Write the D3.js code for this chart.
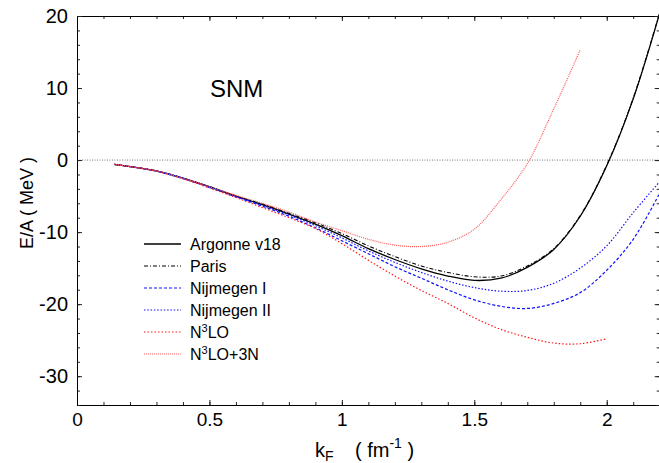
<!DOCTYPE html>
<html>
<head>
<meta charset="utf-8">
<script src="https://cdn.jsdelivr.net/npm/d3@7"></script>
<style>
  html, body { margin: 0; padding: 0; background: #fff; }
  svg { display: block; font-family: "Liberation Sans", Arial, Helvetica, sans-serif; }
</style>
</head>
<body>
<svg id="chart" width="659" height="463"></svg>
<script>
// Fermi momentum grid (fm^-1)
const kF = [0.14, 0.2, 0.3, 0.4, 0.5, 0.6, 0.7, 0.8, 0.9, 1.0, 1.1,
            1.2, 1.3, 1.4, 1.5, 1.6, 1.7, 1.8, 1.9, 2.0, 2.1, 2.2];

// Energy per nucleon in symmetric nuclear matter (MeV)
const argonneV18 = [-0.6, -0.9, -1.5, -2.5, -3.7, -5.0, -6.2, -7.5, -8.9, -10.5, -12.3,
                    -13.8, -15.1, -16.1, -16.7, -16.4, -14.9, -12.4, -7.8, -0.8, 8.5, 20.4];
const paris      = [-0.6, -0.9, -1.5, -2.5, -3.7, -5.0, -6.1, -7.4, -8.7, -10.2, -11.9,
                    -13.4, -14.7, -15.6, -16.2, -16.1, -14.7, -12.3, -7.7, -0.7, 8.6, 20.5];
const nijmegenI  = [-0.6, -0.9, -1.55, -2.55, -3.8, -5.1, -6.4, -7.8, -9.4, -11.2, -13.0,
                    -14.8, -16.4, -18.0, -19.4, -20.3, -20.6, -19.9, -18.4, -15.3, -11.0, -4.6];
const nijmegenII = [-0.6, -0.9, -1.5, -2.5, -3.75, -5.05, -6.3, -7.6, -9.1, -10.8, -12.6,
                    -14.2, -15.6, -16.8, -17.7, -18.2, -18.1, -17.1, -15.0, -11.9, -7.3, -3.0];
const n3lo       = [-0.6, -0.9, -1.55, -2.6, -3.85, -5.2, -6.6, -8.0, -9.5, -11.6, -13.9,
                    -16.1, -18.1, -19.9, -21.9, -23.5, -24.6, -25.4, -25.5, -24.8];
const n3lo3N     = [-0.6, -0.9, -1.5, -2.5, -3.7, -4.9, -6.0, -7.2, -8.6, -9.8, -11.0,
                    -11.8, -12.0, -11.4, -9.6, -5.5, -0.5, 7.1, 15.3];

// Axis ticks
const xTicks = [0, 0.5, 1, 1.5, 2];
const xTickLabels = ["0", "0.5", "1", "1.5", "2"];
const xMinorTicks = d3.range(0, 23).map(i => i / 10);
const yTicks = [-30, -20, -10, 0, 10, 20];
const yTickLabels = ["-30", "-20", "-10", "0", "10", "20"];
const yMinorTicks = d3.range(-34, 21, 2);

// Series and their line styles (legend order)
const series = [
  { name: "Argonne v18", values: argonneV18, color: "#000000", width: 1.3, dash: null },
  { name: "Paris",       values: paris,      color: "#000000", width: 1.1, dash: "4,2,1,2" },
  { name: "Nijmegen I",  values: nijmegenI,  color: "#1010ff", width: 1.2, dash: "3,2" },
  { name: "Nijmegen II", values: nijmegenII, color: "#1010ff", width: 1.2, dash: "1.5,1.8" },
  { name: "N3LO",        values: n3lo,       color: "#ff1a1a", width: 1.2, dash: "1.5,2" },
  { name: "N3LO+3N",     values: n3lo3N,     color: "#ff5c5c", width: 1.2, dash: "1,1" }
];

const svg = d3.select("#chart");
const plotLeft = 77, plotRight = 659.7, plotTop = 16, plotBottom = 405;

const x = d3.scaleLinear().domain([0, 2.2]).range([plotLeft, plotRight]);
const y = d3.scaleLinear().domain([-34, 20]).range([plotBottom, plotTop]);

// Zero reference line
svg.append("line")
  .attr("x1", x(0)).attr("x2", x(2.2))
  .attr("y1", y(0)).attr("y2", y(0))
  .attr("stroke", "#777").attr("stroke-width", 1)
  .attr("stroke-dasharray", "1,1.5");

// Curves
const line = d3.line()
  .x(d => x(d[0]))
  .y(d => y(d[1]))
  .curve(d3.curveCatmullRom.alpha(0.5));

const plot = svg.append("g");
series.forEach(s => {
  const pts = s.values.map((v, i) => [kF[i], v]);
  plot.append("path")
    .attr("d", line(pts))
    .attr("fill", "none")
    .attr("stroke", s.color)
    .attr("stroke-width", s.width)
    .attr("stroke-dasharray", s.dash);
});

// Axes: ticks point into the frame on all four sides
function styleAxis(g) {
  g.selectAll(".domain").attr("stroke", "#000").attr("stroke-width", 1);
  g.selectAll(".tick line").attr("stroke", "#222");
  g.selectAll(".tick text").attr("fill", "#000");
}

// bottom
svg.append("g").attr("transform", `translate(0,${plotBottom})`)
  .call(d3.axisBottom(x).tickValues(xMinorTicks).tickFormat("").tickSizeInner(-3).tickSizeOuter(0))
  .call(styleAxis);
svg.append("g").attr("transform", `translate(0,${plotBottom})`)
  .call(d3.axisBottom(x).tickValues(xTicks).tickFormat((d, i) => xTickLabels[i])
        .tickSizeInner(-5).tickSizeOuter(0).tickPadding(8))
  .call(g => g.selectAll("text").attr("font-size", 19).attr("font-family", "Liberation Sans, Arial, sans-serif"))
  .call(styleAxis);

// top
svg.append("g").attr("transform", `translate(0,${plotTop})`)
  .call(d3.axisTop(x).tickValues(xMinorTicks).tickFormat("").tickSizeInner(-3).tickSizeOuter(0))
  .call(styleAxis);
svg.append("g").attr("transform", `translate(0,${plotTop})`)
  .call(d3.axisTop(x).tickValues(xTicks).tickFormat("").tickSizeInner(-5).tickSizeOuter(0))
  .call(styleAxis);

// left
svg.append("g").attr("transform", `translate(${plotLeft},0)`)
  .call(d3.axisLeft(y).tickValues(yMinorTicks).tickFormat("").tickSizeInner(-3).tickSizeOuter(0))
  .call(styleAxis);
svg.append("g").attr("transform", `translate(${plotLeft},0)`)
  .call(d3.axisLeft(y).tickValues(yTicks).tickFormat((d, i) => yTickLabels[i])
        .tickSizeInner(-5).tickSizeOuter(0).tickPadding(9))
  .call(g => g.selectAll("text").attr("font-size", 20).attr("font-family", "Liberation Sans, Arial, sans-serif"))
  .call(styleAxis);

// right
svg.append("g").attr("transform", `translate(${plotRight},0)`)
  .call(d3.axisRight(y).tickValues(yMinorTicks).tickFormat("").tickSizeInner(-3).tickSizeOuter(0))
  .call(styleAxis);
svg.append("g").attr("transform", `translate(${plotRight},0)`)
  .call(d3.axisRight(y).tickValues(yTicks).tickFormat("").tickSizeInner(-5).tickSizeOuter(0))
  .call(styleAxis);

// Axis titles
svg.append("text")
  .attr("transform", "translate(33,203) rotate(-90)")
  .attr("text-anchor", "middle")
  .attr("font-size", 18)
  .text("E/A ( MeV )");

const xt = svg.append("text")
  .attr("x", 315).attr("y", 457)
  .attr("font-size", 20);
xt.append("tspan").text("k");
xt.append("tspan").attr("font-size", 14).attr("dy", 4).text("F");
xt.append("tspan").attr("x", 355).attr("dy", -4).text("( fm");
xt.append("tspan").attr("font-size", 14).attr("dy", -9).text("-1");
xt.append("tspan").attr("dy", 9).text(" )");

// Panel label
svg.append("text")
  .attr("x", 210).attr("y", 97)
  .attr("font-size", 24)
  .text("SNM");

// Legend
const legend = svg.append("g");
const legendX0 = 144, legendX1 = 181, legendTextX = 190, legendY0 = 244, legendStep = 22;
series.forEach((s, i) => {
  const yy = legendY0 + i * legendStep;
  legend.append("line")
    .attr("x1", legendX0).attr("x2", legendX1)
    .attr("y1", yy).attr("y2", yy)
    .attr("stroke", s.color)
    .attr("stroke-width", s.width)
    .attr("stroke-dasharray", s.dash);
  const t = legend.append("text")
    .attr("x", legendTextX).attr("y", yy + 6)
    .attr("font-size", 16);
  const m = s.name.match(/^N3LO(.*)$/);
  if (m) {
    t.append("tspan").text("N");
    t.append("tspan").attr("font-size", 11).attr("dy", -6).text("3");
    t.append("tspan").attr("dy", 6).text("LO" + m[1]);
  } else {
    t.text(s.name);
  }
});
</script>
</body>
</html>
